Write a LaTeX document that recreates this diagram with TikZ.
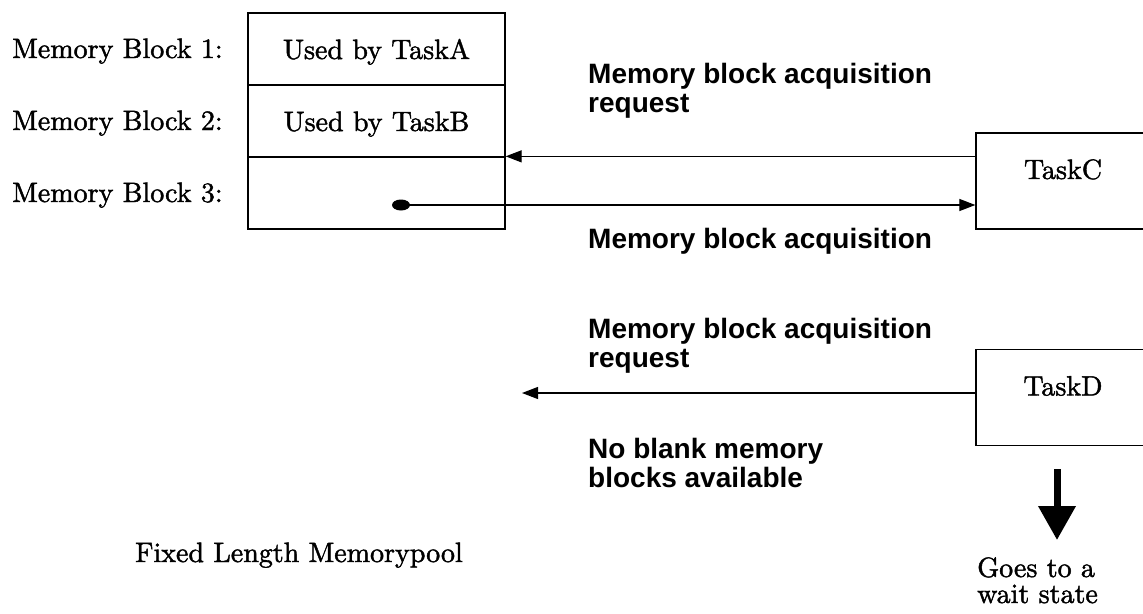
\documentclass[tikz,border=0pt]{standalone}
\usepackage{fontspec}
\newfontfamily\lblsans{Liberation Sans}
\newfontfamily\centfont{lmroman10-regular}[Extension=.otf,FakeBold=1.5]
\usetikzlibrary{arrows.meta,shapes.geometric}
\begin{document}
\begin{tikzpicture}[x=1pt,y=-1pt,
  serif/.style={font=\centfont\fontsize{28}{26}\selectfont, inner sep=0pt},
  bsans/.style={font=\lblsans\bfseries\fontsize{28}{29}\selectfont, inner sep=0pt, align=left},
  blk/.style={draw, line width=1.3pt, minimum width=257pt, minimum height=72pt, inner sep=0pt,
    font=\centfont\fontsize{28}{26}\selectfont, text height=20pt, text depth=0pt},
  taskbox/.style={draw, line width=1.3pt, minimum width=174pt, minimum height=96pt, inner sep=0pt,
    font=\centfont\fontsize{28}{26}\selectfont, text height=21pt, text depth=25pt},
  conn/.style={line width=1.2pt, -{Triangle[length=16pt,width=12pt]}}
]
\useasboundingbox (0,0) rectangle (1143,613);

% memory pool
\node[blk] (b1) at (376.5,49) {Used by TaskA};
\node[blk] (b2) at (376.5,121) {Used by TaskB};
\node[blk] (b3) at (376.5,193) {};

\node[serif, anchor=base west] (l1) at (12,58) {Memory Block 1:};
\node[serif, anchor=base west] (l2) at (12,130) {Memory Block 2:};
\node[serif, anchor=base west] (l3) at (12,202) {Memory Block 3:};

% tasks
\node[taskbox] (tc) at (1063,181) {TaskC};
\node[taskbox] (td) at (1063,397.5) {TaskD};

% arrows TaskC
\draw[conn] (tc.west |- b3.north east) -- (b3.north east);
\node[ellipse, fill, minimum width=18pt, minimum height=11pt, inner sep=0pt] (dot) at (401,205) {};
\draw[conn] (dot.east) -- (tc.west |- dot.east);

% labels (base anchor = last line)
\node[bsans, anchor=base west] (req1) at (588,112) {Memory block acquisition\\request};
\node[bsans, anchor=base west] (acq) at (588,248) {Memory block acquisition};

% TaskD
\coordinate (tdend) at (522,393);
\draw[conn] (td.west |- tdend) -- (tdend);
\node[bsans, anchor=base west] (req2) at (588,367) {Memory block acquisition\\request};
\node[bsans, anchor=base west] (noblank) at (588,487) {No blank memory\\blocks available};

% wait arrow
\coordinate (wtop) at (1057,469);
\coordinate (wtip) at (1057,540);
\draw[line width=7pt, -{Triangle[length=34pt,width=36pt]}] (wtop) -- (wtip);
\node[serif, anchor=base west, align=left] (wait) at (977,603) {Goes to a\\wait state};

\node[serif, anchor=base west] (title) at (135,562) {Fixed Length Memorypool};
\end{tikzpicture}
\end{document}
